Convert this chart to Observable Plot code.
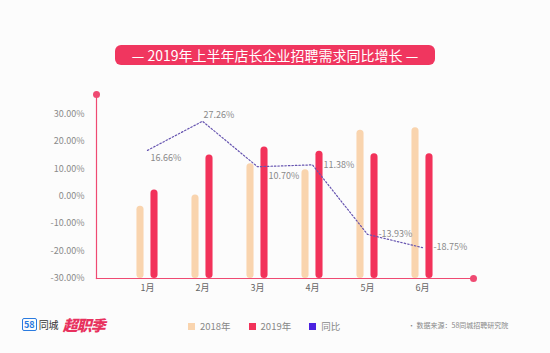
<!DOCTYPE html>
<html><head><meta charset="utf-8">
<script src="https://cdn.jsdelivr.net/npm/d3@7"></script>
<script src="https://cdn.jsdelivr.net/npm/@observablehq/plot@0.6"></script>
<style>
html,body{margin:0;padding:0;background:#fcfcfc;}
#wrap{position:relative;width:550px;height:353px;overflow:hidden;font-family:"Noto Sans CJK SC","Noto Sans",sans-serif;background:#fcfcfc;}
#title{position:absolute;left:115px;top:45px;width:320px;height:20px;border-radius:6px;background:#f0365f;color:#fff;font-size:14px;line-height:20px;text-align:center;}
#chart{position:absolute;left:0;top:0;}
#legend{position:absolute;top:319px;left:188px;font-size:9.5px;color:#888;display:flex;align-items:center;}
#legend .sw{display:inline-block;width:7px;height:7px;margin-right:5px;}
#legend .it{display:flex;align-items:center;margin-right:18px;}
#source{position:absolute;top:320px;left:408px;font-size:7px;color:#888;}
#logo{position:absolute;left:22px;top:314px;font-size:10px;color:#333;display:flex;align-items:center;}
#logo .b58{color:#2a7be0;font-weight:bold;border:1px solid #2a7be0;border-radius:2px;padding:0 1px;font-size:9px;line-height:11px;margin-right:2px;}
#logo .big{font-style:italic;font-weight:900;font-size:15px;color:#e8315e;margin-left:4px;letter-spacing:-1px;}
</style></head>
<body><div id="wrap">
<div id="chart"></div>
<div id="title">— 2019年上半年店长企业招聘需求同比增长 —</div>
<div id="logo"><span class="b58">58</span>同城<span class="big">超职季</span></div>
<div id="legend"></div>
<div id="source">• 数据来源：58同城招聘研究院</div>
</div>
<script>
const months = ["1月","2月","3月","4月","5月","6月"];
const v2018 = [-3.7, 0.4, 11.8, 9.6, 24.0, 24.9];
const v2019 = [2.2, 15.0, 17.9, 16.3, 15.4, 15.4];
const yoy = [16.66, 27.26, 10.70, 11.38, -13.93, -18.75];
const yTicks = [-30, -20, -10, 0, 10, 20, 30];
const seriesNames = ["2018年", "2019年", "同比"];
const colors = ["#f9d4ae", "#f2325a", "#4b22e0"];

const axisColor = "#ef4a72";
const rows = months.map((m, i) => ({month: m, a: v2018[i], b: v2019[i], r: yoy[i]}));
const fmt = d => d.toFixed(2) + "%";

// band geometry: plot width 377, step ~55.8, bandwidth ~27.9
const bw = 27.9, barW = 7, off = 7;
const inL2018 = bw / 2 - off - barW / 2, inR2018 = bw - inL2018 - barW;
const inL2019 = bw / 2 + off - barW / 2, inR2019 = bw - inL2019 - barW;

const chart = Plot.plot({
  width: 550, height: 353,
  marginLeft: 96, marginRight: 77, marginTop: 94, marginBottom: 75,
  style: {background: "transparent", fontFamily: "'Noto Sans CJK SC','Noto Sans',sans-serif"},
  x: {type: "band", domain: months, paddingInner: 0.5, paddingOuter: 0.63, label: null},
  y: {domain: [-30, 37], label: null},
  marks: [
    Plot.axisY({ticks: yTicks, tickFormat: fmt, tickSize: 0, tickPadding: 12, fontSize: 9, color: "#8a8a8a", label: null}),
    Plot.axisX({tickSize: 0, tickPadding: 6, fontSize: 9, color: "#666", label: null}),
    Plot.barY(rows, {x: "month", y1: -30, y2: "a", fill: colors[0], insetLeft: inL2018, insetRight: inR2018, rx: 3.5}),
    Plot.barY(rows, {x: "month", y1: -30, y2: "b", fill: colors[1], insetLeft: inL2019, insetRight: inR2019, rx: 3.5}),
    Plot.frame({anchor: "left", stroke: axisColor, strokeWidth: 1.2}),
    Plot.frame({anchor: "bottom", stroke: axisColor, strokeWidth: 1.2}),
    Plot.dot([0], {frameAnchor: "top-left", r: 3.5, fill: axisColor}),
    Plot.dot([0], {frameAnchor: "bottom-right", r: 3.5, fill: axisColor}),
    Plot.line(rows, {x: "month", y: "r", stroke: "#6654b0", strokeWidth: 1.2, strokeDasharray: "1.5,2"}),
    Plot.text(rows.filter((d, i) => i === 0), {x: "month", y: "r", text: d => fmt(d.r), dx: 3, dy: 8, textAnchor: "start", fontSize: 9, fill: "#8a8a8a"}),
    Plot.text(rows.filter((d, i) => i === 2), {x: "month", y: "r", text: d => fmt(d.r), dx: 11, dy: 9, textAnchor: "start", fontSize: 9, fill: "#8a8a8a"}),
    Plot.text(rows.filter((d, i) => i === 1), {x: "month", y: "r", text: d => fmt(d.r), dx: 1, dy: -6, textAnchor: "start", fontSize: 9, fill: "#8a8a8a"}),
    Plot.text(rows.filter((d, i) => i >= 3), {x: "month", y: "r", text: d => fmt(d.r), dx: 11, dy: 0, textAnchor: "start", fontSize: 9, fill: "#8a8a8a"})
  ]
});
document.getElementById("chart").appendChild(chart);

const leg = document.getElementById("legend");
seriesNames.forEach((n, i) => {
  const it = document.createElement("span");
  it.className = "it";
  it.innerHTML = `<span class="sw" style="background:${colors[i]}"></span>${n}`;
  leg.appendChild(it);
});
</script>
</body></html>
